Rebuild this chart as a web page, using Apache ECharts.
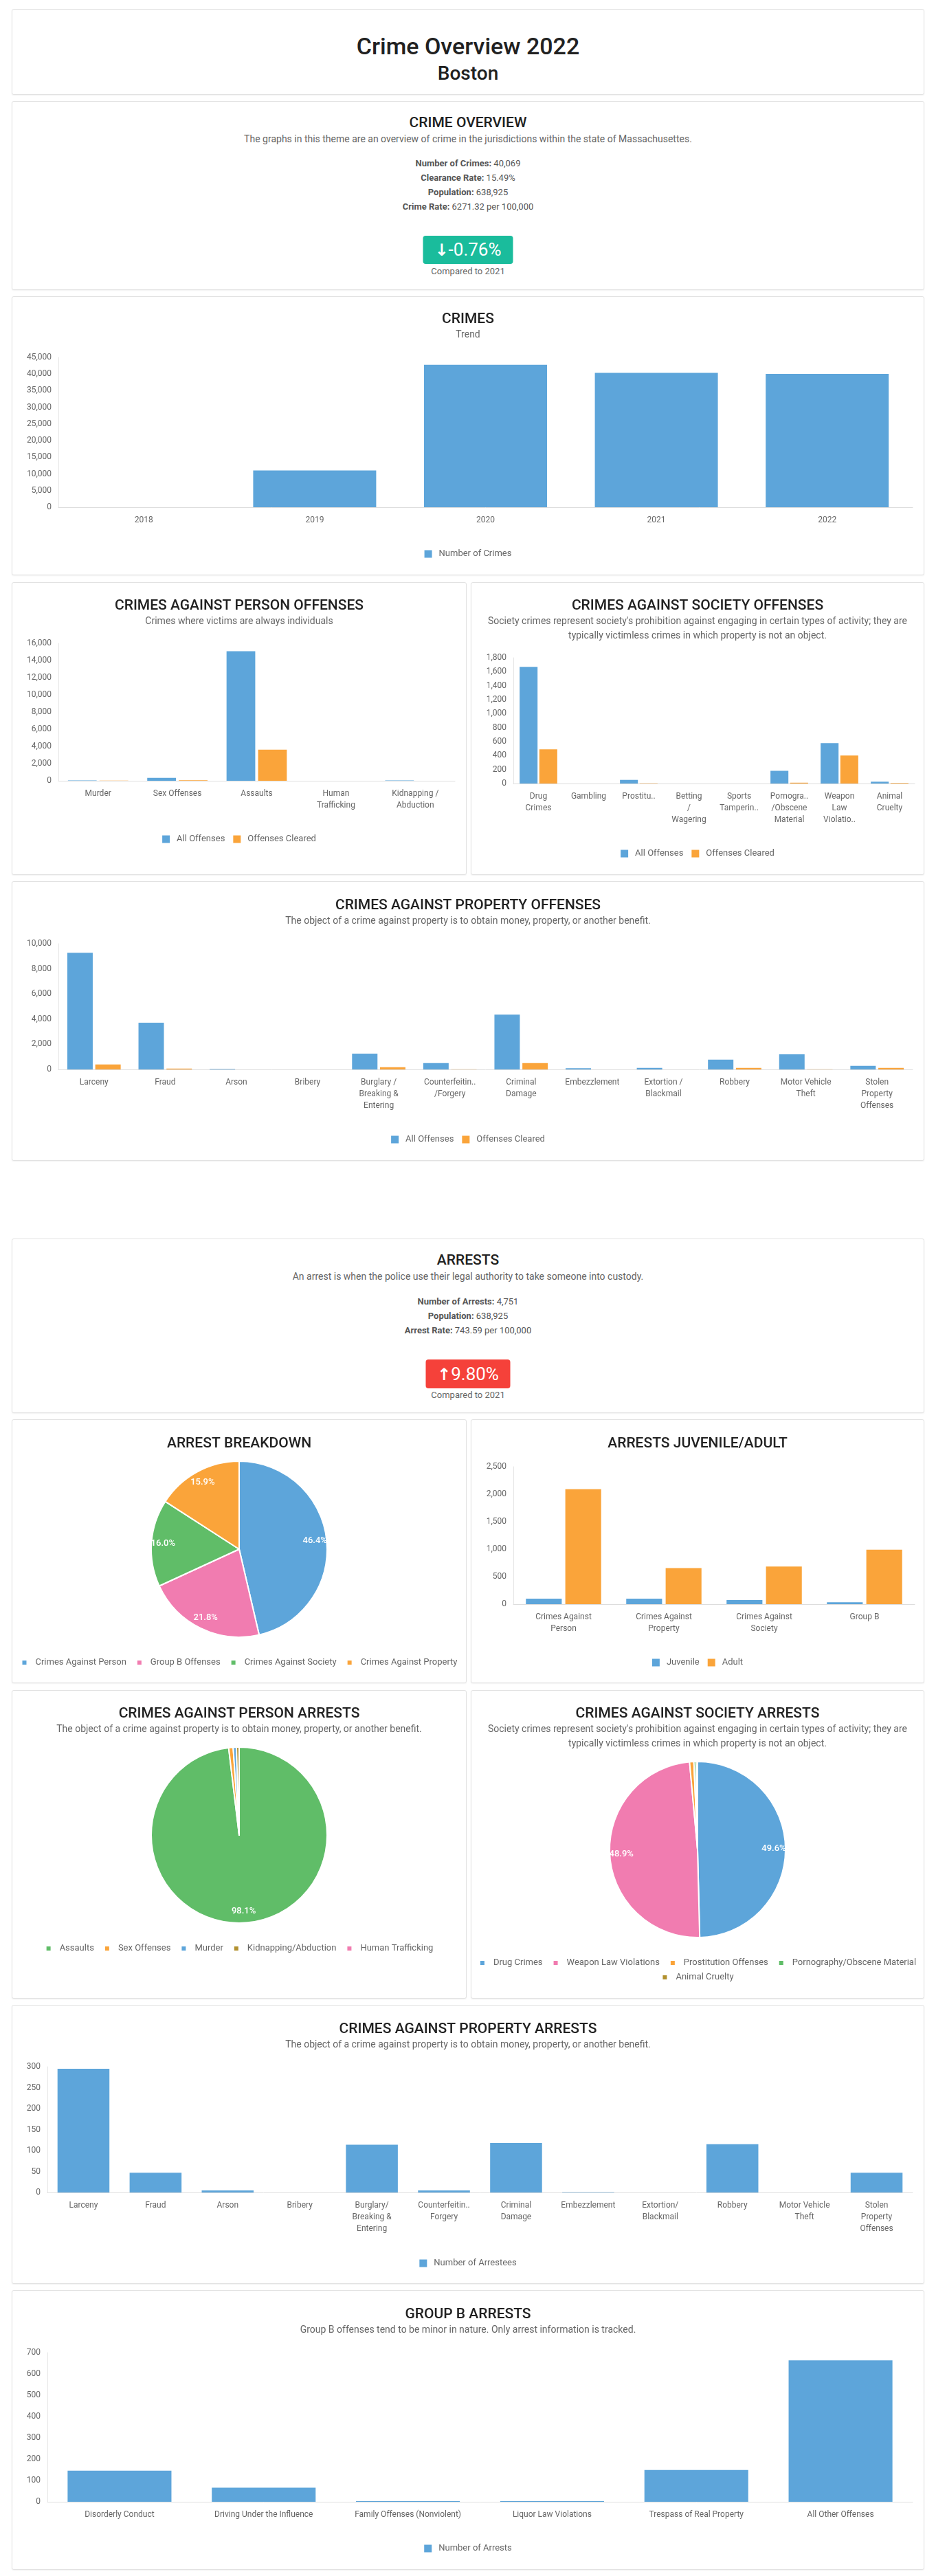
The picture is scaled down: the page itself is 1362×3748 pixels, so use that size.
<!DOCTYPE html>
<html>
<head>
<meta charset="utf-8">
<title>Crime Overview 2022 - Boston</title>
<script src="https://cdn.jsdelivr.net/npm/echarts@6/dist/echarts.min.js"></script>
<style>
body { margin: 0; background: #fff; font-family: Roboto, "Noto Sans", sans-serif; }
#page { position: relative; width: 1362px; height: 3748px; }
.panel { position: absolute; box-sizing: border-box; border: 1px solid #e2e2e2; border-radius: 3px; background: #fff; box-shadow: 0 1px 2px rgba(0,0,0,0.06); }
.full { left: 17px; width: 1328px; }
.lft { left: 17px; width: 662px; }
.rgt { left: 685px; width: 660px; }
.chart { position: absolute; left: 0; top: 0; width: 100%; height: 100%; }
.ln { position: absolute; left: 0; right: 0; text-align: center; white-space: nowrap; }
.ttl { height: 24px; line-height: 24px; font-size: 21px; font-weight: 500; color: #212121; }
.sub { height: 20px; line-height: 20px; font-size: 14px; color: #666; }
.stats { font-size: 13px; line-height: 21px; color: #555; }
.stats b { font-weight: 700; }
.badge { position: absolute; left: 50%; transform: translateX(-50%); border-radius: 4px; color: #fff; font-size: 26px; text-align: center; }
.arrow { font-family: "DejaVu Sans", sans-serif; font-weight: 700; font-size: 24px; }
.cmp { height: 20px; line-height: 20px; font-size: 13px; color: #666; }
</style>
</head>
<body>
<div id="page">

  <div class="panel full" style="top:13px;height:125px">
    <div class="ln" style="top:33px;height:40px;line-height:40px;font-size:34px;font-weight:500;color:#212121">Crime Overview 2022</div>
    <div class="ln" style="top:76px;height:34px;line-height:34px;font-size:28px;font-weight:500;color:#212121">Boston</div>
  </div>

  <div class="panel full" style="top:147px;height:275px">
    <div class="ln ttl" style="top:18px">CRIME OVERVIEW</div>
    <div class="ln sub" style="top:44px">The graphs in this theme are an overview of crime in the jurisdictions within the state of Massachusettes.</div>
    <div class="ln stats" style="top:79px">
      <div><b>Number of Crimes:</b> 40,069</div>
      <div><b>Clearance Rate:</b> 15.49%</div>
      <div><b>Population:</b> 638,925</div>
      <div><b>Crime Rate:</b> 6271.32 per 100,000</div>
    </div>
    <div class="badge" style="top:195px;width:131px;height:41px;line-height:41px;background:#1abc9c"><span class="arrow">&#8595;</span>-0.76%</div>
    <div class="ln cmp" style="top:237px">Compared to 2021</div>
  </div>

  <div class="panel full" style="top:431px;height:406px"><div class="chart" id="trend"></div></div>

  <div class="panel lft" style="top:847px;height:426px"><div class="chart" id="personOff"></div></div>
  <div class="panel rgt" style="top:847px;height:426px"><div class="chart" id="societyOff"></div></div>

  <div class="panel full" style="top:1282px;height:407px"><div class="chart" id="propertyOff"></div></div>

  <div class="panel full" style="top:1802px;height:254px">
    <div class="ln ttl" style="top:18px">ARRESTS</div>
    <div class="ln sub" style="top:44px">An arrest is when the police use their legal authority to take someone into custody.</div>
    <div class="ln stats" style="top:80px">
      <div><b>Number of Arrests:</b> 4,751</div>
      <div><b>Population:</b> 638,925</div>
      <div><b>Arrest Rate:</b> 743.59 per 100,000</div>
    </div>
    <div class="badge" style="top:175px;width:123px;height:42px;line-height:42px;background:#f5413a"><span class="arrow">&#8593;</span>9.80%</div>
    <div class="ln cmp" style="top:217px">Compared to 2021</div>
  </div>

  <div class="panel lft" style="top:2065px;height:384px"><div class="chart" id="breakdown"></div></div>
  <div class="panel rgt" style="top:2065px;height:384px"><div class="chart" id="juvAdult"></div></div>

  <div class="panel lft" style="top:2459px;height:449px"><div class="chart" id="personArr"></div></div>
  <div class="panel rgt" style="top:2459px;height:449px"><div class="chart" id="societyArr"></div></div>

  <div class="panel full" style="top:2917px;height:406px"><div class="chart" id="propertyArr"></div></div>

  <div class="panel full" style="top:3332px;height:407px"><div class="chart" id="groupB"></div></div>
</div>

<script>
// ---- data ----
const trendYears = ['2018', '2019', '2020', '2021', '2022'];
const trendCrimes = [0, 11050, 42800, 40376, 40069];

const personOffCats = ['Murder', 'Sex Offenses', 'Assaults', 'Human\nTrafficking', 'Kidnapping /\nAbduction'];
const personOffAll = [45, 340, 15080, 5, 50];
const personOffCleared = [20, 70, 3620, 2, 10];

const societyOffCats = ['Drug\nCrimes', 'Gambling', 'Prostitu..', 'Betting\n/\nWagering', 'Sports\nTamperin..',
  'Pornogra..\n/Obscene\nMaterial', 'Weapon\nLaw\nViolatio..', 'Animal\nCruelty'];
const societyOffAll = [1670, 0, 52, 0, 0, 182, 577, 26];
const societyOffCleared = [490, 0, 4, 0, 0, 12, 402, 8];

const propertyOffCats = ['Larceny', 'Fraud', 'Arson', 'Bribery', 'Burglary /\nBreaking &\nEntering', 'Counterfeitin..\n/Forgery',
  'Criminal\nDamage', 'Embezzlement', 'Extortion /\nBlackmail', 'Robbery', 'Motor Vehicle\nTheft', 'Stolen\nProperty\nOffenses'];
const propertyOffAll = [9280, 3716, 36, 0, 1257, 503, 4363, 90, 125, 772, 1203, 287];
const propertyOffCleared = [395, 72, 3, 0, 180, 20, 500, 3, 5, 125, 8, 125];

const breakdownNames = ['Crimes Against Person', 'Group B Offenses', 'Crimes Against Society', 'Crimes Against Property'];
const breakdownValues = [2204, 1036, 760, 755];

const juvAdultCats = ['Crimes Against\nPerson', 'Crimes Against\nProperty', 'Crimes Against\nSociety', 'Group B'];
const juvenileValues = [100, 100, 75, 35];
const adultValues = [2090, 655, 685, 990];

const personArrNames = ['Assaults', 'Sex Offenses', 'Murder', 'Kidnapping/Abduction', 'Human Trafficking'];
const personArrValues = [2162, 18, 13, 11, 0];

const societyArrNames = ['Drug Crimes', 'Weapon Law Violations', 'Prostitution Offenses', 'Pornography/Obscene Material', 'Animal Cruelty'];
const societyArrValues = [377, 372, 6, 3, 2];

const propertyArrCats = ['Larceny', 'Fraud', 'Arson', 'Bribery', 'Burglary/\nBreaking &\nEntering', 'Counterfeitin..\nForgery',
  'Criminal\nDamage', 'Embezzlement', 'Extortion/\nBlackmail', 'Robbery', 'Motor Vehicle\nTheft', 'Stolen\nProperty\nOffenses'];
const propertyArrValues = [295, 47, 5, 0, 114, 5, 118, 1, 0, 115, 0, 47];

const groupBCats = ['Disorderly Conduct', 'Driving Under the Influence', 'Family Offenses (Nonviolent)',
  'Liquor Law Violations', 'Trespass of Real Property', 'All Other Offenses'];
const groupBValues = [146, 66, 3, 3, 149, 664];

const SUB_PROPERTY = 'The object of a crime against property is to obtain money, property, or another benefit.';
const SUB_SOCIETY = "Society crimes represent society's prohibition against engaging in certain types of activity; they are\ntypically victimless crimes in which property is not an object.";

// ---- style ----
const FONT = 'Roboto';
const BLUE = '#5DA5DA', ORANGE = '#FAA43A', GREEN = '#60BD68', PINK = '#F17CB0', OLIVE = '#B2912F';

function titleOpt(text, sub, top) {
  return {
    text: text,
    subtext: sub || '',
    left: 'center',
    top: top,
    itemGap: 0,
    textStyle: { fontSize: 21, fontWeight: 500, color: '#212121', lineHeight: 24, fontFamily: FONT },
    subtextStyle: { fontSize: 14, color: '#666', lineHeight: 21, fontFamily: FONT, align: 'center' }
  };
}

function legendOpt(center, extra) {
  return Object.assign({
    top: center - 7,
    left: 'center',
    icon: 'rect',
    itemWidth: 11,
    itemHeight: 11,
    itemGap: 12,
    selectedMode: false,
    textStyle: { fontSize: 13, color: '#666', fontFamily: FONT, lineHeight: 14, padding: [0, 0, 0, 5] }
  }, extra || {});
}

function barChart(id, c) {
  const chart = echarts.init(document.getElementById(id));
  chart.setOption({
    animation: false,
    title: titleOpt(c.title, c.sub, c.titleTop),
    legend: legendOpt(c.legend),
    grid: { left: c.grid[0], right: c.grid[1], top: c.grid[2], bottom: c.grid[3], outerBoundsMode: 'none' },
    xAxis: {
      type: 'category',
      data: c.cats,
      axisTick: { show: false },
      axisLine: { lineStyle: { color: '#ddd' } },
      axisLabel: { interval: 0, color: '#666', fontSize: 12, lineHeight: 17, margin: 10, fontFamily: FONT }
    },
    yAxis: {
      type: 'value',
      min: 0,
      max: c.max,
      interval: c.step,
      axisLine: { show: true, lineStyle: { color: '#e6e6e6' } },
      axisTick: { show: false },
      splitLine: { show: false },
      axisLabel: { color: '#666', fontSize: 12, margin: 10, fontFamily: FONT,
        formatter: function (v) { return v.toLocaleString('en-US'); } }
    },
    series: c.series.map(function (s) {
      return { type: 'bar', name: s.name, data: s.data, itemStyle: { color: s.color },
        barCategoryGap: c.catGap, barGap: c.barGap || '10%' };
    })
  });
}

function pieChart(id, c) {
  const chart = echarts.init(document.getElementById(id));
  const data = c.names.map(function (n, i) { return { name: n, value: c.values[i] }; });
  const total = c.values.reduce(function (a, b) { return a + b; }, 0);
  const legends = (c.legendRows || [c.names]).map(function (row, i) {
    return legendOpt(c.legend[i], {
      data: row, itemWidth: 8, itemHeight: 8, itemGap: 14,
      textStyle: { fontSize: 13, color: '#666', fontFamily: FONT, lineHeight: 14, padding: [0, 0, 0, 7] }
    });
  });
  chart.setOption({
    animation: false,
    color: c.colors,
    title: titleOpt(c.title, c.sub, c.titleTop),
    legend: legends,
    series: [{
      type: 'pie',
      radius: 128,
      center: ['50%', c.cy],
      startAngle: 90,
      clockwise: true,
      data: data,
      label: { show: false },
      labelLine: { show: false },
      itemStyle: { borderColor: '#fff', borderWidth: 2 }
    }, {
      // label ring: places the percentages near the rim
      type: 'pie',
      radius: [88, 128],
      center: ['50%', c.cy],
      startAngle: 90,
      clockwise: true,
      silent: true,
      data: data,
      itemStyle: { color: 'rgba(0,0,0,0)', borderWidth: 0 },
      labelLine: { show: false },
      label: {
        show: true,
        position: 'inside',
        color: '#fff',
        fontSize: 13,
        fontWeight: 500,
        fontFamily: FONT,
        formatter: function (p) {
          const pct = p.value / total * 100;
          return pct >= 5 ? pct.toFixed(1) + '%' : '';
        }
      }
    }]
  });
}

// ---- charts ----
barChart('trend', {
  title: 'CRIMES', sub: 'Trend', titleTop: 16, legend: 369,
  grid: [67, 16, 88, 98], max: 45000, step: 5000, catGap: '28%',
  cats: trendYears,
  series: [{ name: 'Number of Crimes', data: trendCrimes, color: BLUE }]
});

barChart('personOff', {
  title: 'CRIMES AGAINST PERSON OFFENSES', sub: 'Crimes where victims are always individuals', titleTop: 17, legend: 368,
  grid: [67, 16, 88, 136], max: 16000, step: 2000, catGap: '24%',
  cats: personOffCats,
  series: [{ name: 'All Offenses', data: personOffAll, color: BLUE },
           { name: 'Offenses Cleared', data: personOffCleared, color: ORANGE }]
});

barChart('societyOff', {
  title: 'CRIMES AGAINST SOCIETY OFFENSES', sub: SUB_SOCIETY, titleTop: 17, legend: 389,
  grid: [61, 13, 109, 132], max: 1800, step: 200, catGap: '25%',
  cats: societyOffCats,
  series: [{ name: 'All Offenses', data: societyOffAll, color: BLUE },
           { name: 'Offenses Cleared', data: societyOffCleared, color: ORANGE }]
});

barChart('propertyOff', {
  title: 'CRIMES AGAINST PROPERTY OFFENSES', sub: SUB_PROPERTY, titleTop: 18, legend: 370,
  grid: [67, 16, 90, 132], max: 10000, step: 2000, catGap: '25%',
  cats: propertyOffCats,
  series: [{ name: 'All Offenses', data: propertyOffAll, color: BLUE },
           { name: 'Offenses Cleared', data: propertyOffCleared, color: ORANGE }]
});

pieChart('breakdown', {
  title: 'ARREST BREAKDOWN', titleTop: 18, cy: 188, legend: [348],
  names: breakdownNames, values: breakdownValues, colors: [BLUE, PINK, GREEN, ORANGE]
});

barChart('juvAdult', {
  title: 'ARRESTS JUVENILE/ADULT', titleTop: 18, legend: 348,
  grid: [61, 13, 68, 114], max: 2500, step: 500, catGap: '25%',
  cats: juvAdultCats,
  series: [{ name: 'Juvenile', data: juvenileValues, color: BLUE },
           { name: 'Adult', data: adultValues, color: ORANGE }]
});

pieChart('personArr', {
  title: 'CRIMES AGAINST PERSON ARRESTS', sub: SUB_PROPERTY, titleTop: 17, cy: 210, legend: [370],
  names: personArrNames, values: personArrValues, colors: [GREEN, ORANGE, BLUE, OLIVE, PINK]
});

pieChart('societyArr', {
  title: 'CRIMES AGAINST SOCIETY ARRESTS', sub: SUB_SOCIETY, titleTop: 17, cy: 231, legend: [391, 412],
  legendRows: [societyArrNames.slice(0, 4), societyArrNames.slice(4)],
  names: societyArrNames, values: societyArrValues, colors: [BLUE, PINK, ORANGE, GREEN, OLIVE]
});

barChart('propertyArr', {
  title: 'CRIMES AGAINST PROPERTY ARRESTS', sub: SUB_PROPERTY, titleTop: 18, legend: 370,
  grid: [51, 16, 89, 132], max: 300, step: 50, catGap: '28%',
  cats: propertyArrCats,
  series: [{ name: 'Number of Arrestees', data: propertyArrValues, color: BLUE }]
});

barChart('groupB', {
  title: 'GROUP B ARRESTS', sub: 'Group B offenses tend to be minor in nature. Only arrest information is tracked.', titleTop: 18, legend: 370,
  grid: [51, 16, 90, 98], max: 700, step: 100, catGap: '28%',
  cats: groupBCats,
  series: [{ name: 'Number of Arrests', data: groupBValues, color: BLUE }]
});
</script>
</body>
</html>
